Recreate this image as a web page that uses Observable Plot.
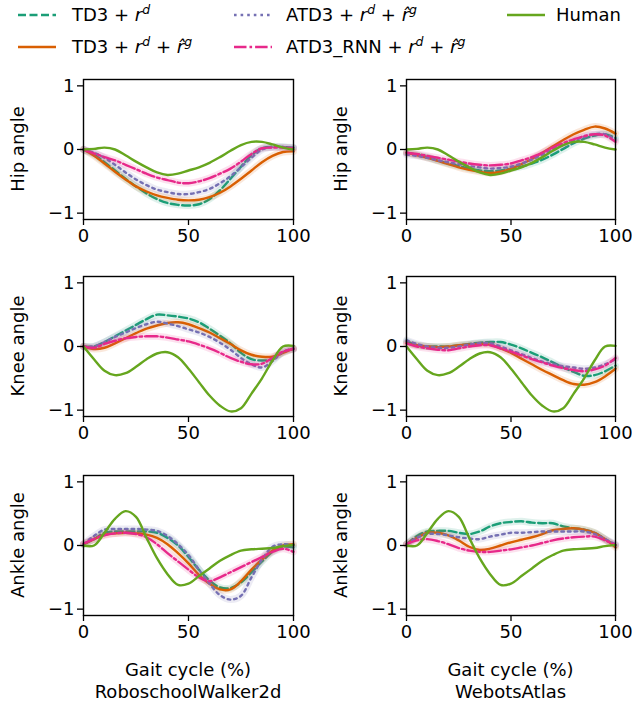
<!DOCTYPE html>
<html><head><meta charset="utf-8">
<script src="https://cdn.jsdelivr.net/npm/d3@7"></script>
<script src="https://cdn.jsdelivr.net/npm/@observablehq/plot@0.6"></script>
<style>
body{margin:0;background:#fff;font-family:"DejaVu Sans",sans-serif;}
#root{position:relative;width:632px;height:703px;overflow:hidden;background:#fff;}
.pl{position:absolute;}
.lab{position:absolute;font-size:18px;white-space:nowrap;color:#000;line-height:20px;}
.lab sup{font-size:12.5px;vertical-align:0;position:relative;top:-7px;}
</style></head><body><div id="root"></div>
<script>
// ---------- data ----------
const gait = [0,5,10,15,20,25,30,35,40,45,50,55,60,65,70,75,80,85,90,95,100];
const seriesNames = ["TD3", "TD3g", "ATD3", "ATD3_RNN", "Human"];
const seriesColors = ["#1b9e77", "#d95f02", "#7570b3", "#e7298a", "#66a61e"];
const seriesDash = ["8,3.5", null, "2.6,4", "12.5,3,2.6,3", null];
const environments = ["RoboschoolWalker2d", "WebotsAtlas"];
const joints = ["Hip angle", "Knee angle", "Ankle angle"];

const humanHip   = [0,0.01,0.03,0.0,-0.09,-0.19,-0.28,-0.36,-0.40,-0.38,-0.33,-0.28,-0.21,-0.12,-0.02,0.07,0.12,0.12,0.08,0.03,0.0];
const humanKnee  = [0,-0.2,-0.38,-0.45,-0.42,-0.32,-0.2,-0.11,-0.09,-0.17,-0.35,-0.56,-0.77,-0.93,-1.02,-0.97,-0.74,-0.5,-0.22,0.0,0.01];
const humanAnkle = [0,0.0,0.2,0.42,0.54,0.45,0.12,-0.2,-0.45,-0.62,-0.6,-0.48,-0.36,-0.24,-0.15,-0.08,-0.06,-0.05,-0.04,-0.01,0.01];

// RoboschoolWalker2d
const roboHipTD3   = [0,-0.08,-0.2,-0.33,-0.46,-0.58,-0.69,-0.78,-0.84,-0.87,-0.88,-0.86,-0.78,-0.64,-0.46,-0.27,-0.09,0.02,0.04,0.04,0.03];
const roboHipTD3g  = [0,-0.1,-0.22,-0.35,-0.47,-0.58,-0.66,-0.72,-0.76,-0.79,-0.8,-0.79,-0.75,-0.68,-0.58,-0.46,-0.33,-0.2,-0.1,-0.04,-0.03];
const roboHipATD3  = [0,-0.05,-0.13,-0.24,-0.36,-0.47,-0.56,-0.63,-0.67,-0.7,-0.7,-0.67,-0.62,-0.53,-0.42,-0.28,-0.13,0.0,0.04,0.04,0.02];
const roboHipRNN   = [0,-0.06,-0.12,-0.17,-0.24,-0.31,-0.38,-0.44,-0.48,-0.52,-0.53,-0.5,-0.45,-0.38,-0.3,-0.19,-0.07,0.02,0.03,0.03,0.02];

const roboKneeTD3  = [0,0.0,0.07,0.16,0.25,0.34,0.43,0.5,0.49,0.47,0.44,0.38,0.28,0.17,0.05,-0.1,-0.2,-0.22,-0.2,-0.09,-0.04];
const roboKneeTD3g = [0,-0.04,-0.02,0.05,0.13,0.21,0.28,0.33,0.37,0.38,0.35,0.29,0.22,0.13,0.04,-0.06,-0.13,-0.16,-0.16,-0.1,-0.03];
const roboKneeATD3 = [0,0.0,0.07,0.15,0.22,0.29,0.35,0.39,0.36,0.32,0.27,0.22,0.15,0.06,-0.05,-0.18,-0.28,-0.33,-0.23,-0.08,-0.03];
const roboKneeRNN  = [0,-0.02,0.04,0.09,0.13,0.15,0.16,0.16,0.14,0.11,0.08,0.03,-0.03,-0.1,-0.18,-0.24,-0.28,-0.27,-0.18,-0.08,-0.04];

const roboAnkleTD3  = [0.02,0.1,0.2,0.22,0.22,0.22,0.22,0.2,0.12,0.0,-0.18,-0.38,-0.55,-0.66,-0.67,-0.58,-0.42,-0.25,-0.1,-0.02,-0.03];
const roboAnkleTD3g = [0.02,0.1,0.17,0.19,0.2,0.19,0.17,0.12,0.02,-0.12,-0.28,-0.46,-0.6,-0.69,-0.69,-0.56,-0.38,-0.22,-0.08,0.0,0.02];
const roboAnkleATD3 = [0.02,0.15,0.25,0.26,0.26,0.26,0.25,0.23,0.15,0.02,-0.15,-0.38,-0.6,-0.78,-0.85,-0.79,-0.5,-0.22,-0.02,0.02,0.0];
const roboAnkleRNN  = [0.03,0.1,0.16,0.19,0.2,0.18,0.13,0.02,-0.12,-0.25,-0.38,-0.5,-0.56,-0.5,-0.42,-0.34,-0.26,-0.18,-0.1,-0.05,-0.1];

// WebotsAtlas
const atlasHipTD3   = [-0.05,-0.08,-0.12,-0.17,-0.22,-0.26,-0.3,-0.33,-0.34,-0.33,-0.3,-0.27,-0.22,-0.16,-0.08,0.01,0.1,0.17,0.22,0.24,0.18];
const atlasHipTD3g  = [-0.05,-0.09,-0.13,-0.18,-0.23,-0.28,-0.32,-0.35,-0.37,-0.35,-0.3,-0.23,-0.15,-0.05,0.05,0.15,0.24,0.31,0.36,0.33,0.25];
const atlasHipATD3  = [-0.08,-0.1,-0.13,-0.17,-0.2,-0.23,-0.26,-0.28,-0.3,-0.29,-0.27,-0.22,-0.16,-0.08,0.0,0.07,0.14,0.2,0.24,0.24,0.15];
const atlasHipRNN   = [-0.05,-0.07,-0.1,-0.13,-0.16,-0.19,-0.22,-0.24,-0.25,-0.24,-0.22,-0.17,-0.12,-0.05,0.03,0.1,0.16,0.21,0.24,0.22,0.12];

const atlasKneeTD3  = [0.08,0.02,0.0,0.0,0.0,0.02,0.04,0.06,0.07,0.07,0.03,-0.03,-0.1,-0.17,-0.25,-0.33,-0.4,-0.46,-0.45,-0.39,-0.3];
const atlasKneeTD3g = [0.05,0.02,0.0,-0.01,0.0,0.02,0.03,0.04,0.03,-0.03,-0.1,-0.19,-0.28,-0.37,-0.45,-0.53,-0.59,-0.6,-0.56,-0.47,-0.35];
const atlasKneeATD3 = [0.1,0.04,0.0,-0.02,-0.02,0.0,0.03,0.05,0.05,0.0,-0.06,-0.12,-0.18,-0.24,-0.28,-0.31,-0.33,-0.35,-0.33,-0.28,-0.2];
const atlasKneeRNN  = [0.05,0.0,-0.03,-0.05,-0.06,-0.03,0.0,0.02,0.02,-0.03,-0.08,-0.14,-0.2,-0.25,-0.3,-0.34,-0.37,-0.39,-0.36,-0.3,-0.18];

const atlasAnkleTD3  = [0.02,0.15,0.22,0.23,0.23,0.2,0.18,0.22,0.3,0.35,0.37,0.38,0.36,0.35,0.35,0.3,0.27,0.25,0.2,0.1,0.0];
const atlasAnkleTD3g = [0.02,0.12,0.2,0.2,0.16,0.08,-0.02,-0.07,-0.05,0.0,0.05,0.09,0.13,0.18,0.24,0.26,0.27,0.25,0.2,0.1,-0.03];
const atlasAnkleATD3 = [0.02,0.12,0.18,0.18,0.16,0.13,0.11,0.1,0.14,0.17,0.2,0.2,0.21,0.22,0.22,0.22,0.22,0.22,0.18,0.1,0.02];
const atlasAnkleRNN  = [0.02,0.08,0.1,0.07,0.02,-0.04,-0.08,-0.1,-0.1,-0.08,-0.06,-0.03,0.0,0.04,0.08,0.11,0.13,0.14,0.14,0.08,0.01];

const xTicks = [0, 50, 100];
const yTicks = [-1, 0, 1];

// panels[row][col] = list of series arrays in seriesNames order
const panels = [
  [[roboHipTD3, roboHipTD3g, roboHipATD3, roboHipRNN, humanHip],
   [atlasHipTD3, atlasHipTD3g, atlasHipATD3, atlasHipRNN, humanHip]],
  [[roboKneeTD3, roboKneeTD3g, roboKneeATD3, roboKneeRNN, humanKnee],
   [atlasKneeTD3, atlasKneeTD3g, atlasKneeATD3, atlasKneeRNN, humanKnee]],
  [[roboAnkleTD3, roboAnkleTD3g, roboAnkleATD3, roboAnkleRNN, humanAnkle],
   [atlasAnkleTD3, atlasAnkleTD3g, atlasAnkleATD3, atlasAnkleRNN, humanAnkle]]
];

// ---------- layout ----------
const root = document.getElementById("root");
const rowFrameTop = [79, 276, 475];
const frameH = 140;
const colLeft = [0, 316];
const colML = [83, 90];
const colMR = [23, 17];
const W = 316, MT = 10, MB = 40;
const fmt = d => d < 0 ? "\u2212" + Math.abs(d) : String(d);

for (let r = 0; r < 3; r++) {
  for (let c = 0; c < 2; c++) {
    const arrs = panels[r][c];
    const marks = [];
    arrs.forEach((vals, i) => {
      const data = gait.map((x, k) => ({x, y: vals[k], s: seriesNames[i]}));
      if (i < 4) marks.push(Plot.line(data, {x: "x", y: "y", stroke: seriesColors[i], strokeWidth: 7, strokeOpacity: 0.14, curve: "catmull-rom"}));
      marks.push(Plot.line(data, {x: "x", y: "y", stroke: seriesColors[i], strokeWidth: 2.4,
        strokeDasharray: seriesDash[i] || undefined, curve: "catmull-rom"}));
    });
    marks.push(Plot.frame({stroke: "black", strokeWidth: 1.4}));
    marks.push(Plot.axisX({ticks: xTicks, tickSize: 6, tickPadding: 4, tickFormat: fmt, label: null, stroke: "black", strokeWidth: 1.3}));
    marks.push(Plot.axisY({ticks: yTicks, tickSize: 6, tickPadding: 3, tickFormat: fmt, label: null, stroke: "black", strokeWidth: 1.3}));
    const p = Plot.plot({
      width: W, height: MT + frameH + MB,
      marginLeft: colML[c], marginRight: colMR[c], marginTop: MT, marginBottom: MB,
      x: {domain: [0, 100]},
      y: {domain: [-1.1, 1.1]},
      style: {fontSize: "18px", fontFamily: "DejaVu Sans", color: "black", background: "transparent", overflow: "visible"},
      marks
    });
    p.classList.add("pl");
    p.style.left = colLeft[c] + "px";
    p.style.top = (rowFrameTop[r] - MT) + "px";
    root.appendChild(p);

    // y label
    const yl = document.createElement("div");
    yl.className = "lab";
    yl.textContent = joints[r];
    const cx = colLeft[c] + colML[c] - 65;
    const cy = rowFrameTop[r] + frameH / 2;
    yl.style.left = cx + "px";
    yl.style.top = cy + "px";
    yl.style.transform = "translate(-50%,-50%) rotate(-90deg)";
    root.appendChild(yl);
  }
}

// bottom labels
for (let c = 0; c < 2; c++) {
  const cx = colLeft[c] + colML[c] + (W - colML[c] - colMR[c]) / 2;
  [["Gait cycle (%)", 670], [environments[c], 692]].forEach(([t, y]) => {
    const d = document.createElement("div");
    d.className = "lab";
    d.textContent = t;
    d.style.left = cx + "px";
    d.style.top = y + "px";
    d.style.transform = "translate(-50%,-50%)";
    root.appendChild(d);
  });
}

// legend
const rd = '<i>r</i><sup><i>d</i></sup>';
const rg = '<i>r\u0302</i><sup><i>g</i></sup>';
const legendLabels = [
  'TD3 + ' + rd,
  'TD3 + ' + rd + ' + ' + rg,
  'ATD3 + ' + rd + ' + ' + rg,
  'ATD3_RNN + ' + rd + ' + ' + rg,
  'Human'
];
const legendPos = [[17, 15], [17, 47], [233, 15], [233, 47], [506, 15]];
legendLabels.forEach((html, i) => {
  const [lx, ly] = legendPos[i];
  const svg = d3.create("svg").attr("width", 40).attr("height", 8)
    .style("position", "absolute").style("left", lx + "px").style("top", (ly - 4) + "px");
  svg.append("line").attr("x1", 1).attr("x2", 39).attr("y1", 4).attr("y2", 4)
    .attr("stroke", seriesColors[i]).attr("stroke-width", 2.6)
    .attr("stroke-dasharray", seriesDash[i]);
  root.appendChild(svg.node());
  const t = document.createElement("div");
  t.className = "lab";
  t.innerHTML = html;
  t.style.left = (lx + (i === 4 ? 50 : (i < 2 ? 55 : 53))) + "px";
  t.style.top = (ly - 10) + "px";
  root.appendChild(t);
});
</script>
</body></html>
